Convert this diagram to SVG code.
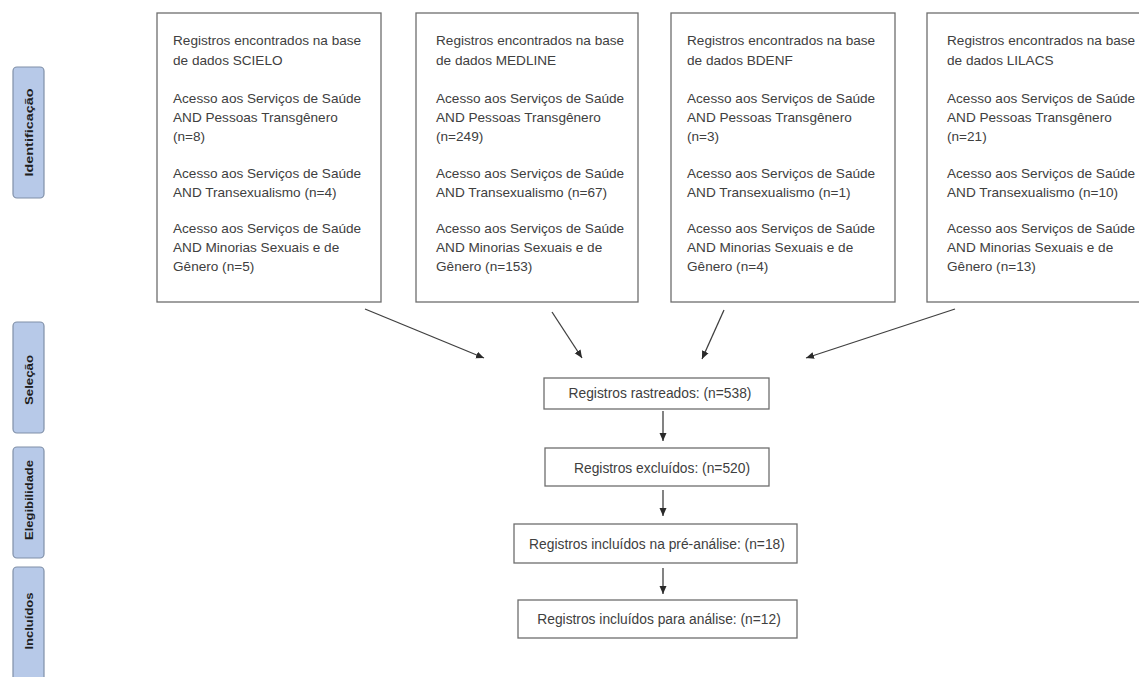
<svg xmlns="http://www.w3.org/2000/svg" width="1139" height="677" viewBox="0 0 1139 677">
<style>
.box{fill:#fff;stroke:#6e6e6e;stroke-width:1.3}
.lab{fill:#b7c9e8;stroke:#8090a8;stroke-width:1.2}
.t{font-family:"Liberation Sans",Arial,sans-serif;font-size:13.6px;fill:#404040}
.tb{font-family:"Liberation Sans",Arial,sans-serif;font-size:13.8px;fill:#404040;text-anchor:middle}
.lt{font-family:"Liberation Sans",Arial,sans-serif;font-size:11.5px;font-weight:bold;fill:#1e1e1e;text-anchor:middle}
.c{stroke:#404040;stroke-width:1.3;fill:none;marker-end:url(#ah)}
</style>
<defs>
<marker id="ah" markerUnits="userSpaceOnUse" markerWidth="9" markerHeight="8" refX="8" refY="4" orient="auto">
<path d="M0,0.5 L8,4 L0,7.5 z" fill="#2a2a2a"/>
</marker>
</defs>
<rect width="1139" height="677" fill="#fff"/>

<g id="lab-identificacao">
<rect class="lab" x="13" y="67" width="31" height="131" rx="4"/>
<text class="lt" transform="translate(32.5,132.5) rotate(-90)" textLength="88" lengthAdjust="spacingAndGlyphs">Identificação</text>
</g>
<g id="lab-selecao">
<rect class="lab" x="13" y="322" width="31" height="111" rx="4"/>
<text class="lt" transform="translate(32.5,380) rotate(-90)" textLength="50" lengthAdjust="spacingAndGlyphs">Seleção</text>
</g>
<g id="lab-elegibilidade">
<rect class="lab" x="13" y="447" width="31" height="111" rx="4"/>
<text class="lt" transform="translate(32.5,500) rotate(-90)" textLength="80" lengthAdjust="spacingAndGlyphs">Elegibilidade</text>
</g>
<g id="lab-incluidos">
<rect class="lab" x="13" y="567" width="31" height="118" rx="4"/>
<text class="lt" transform="translate(32.5,621) rotate(-90)" textLength="57" lengthAdjust="spacingAndGlyphs">Incluídos</text>
</g>

<g id="box-scielo">
<rect class="box" x="157" y="13" width="224" height="289"/>
<text class="t">
<tspan x="173" y="45">Registros encontrados na base</tspan>
<tspan x="173" y="65">de dados SCIELO</tspan>
<tspan x="173" y="103">Acesso aos Serviços de Saúde</tspan>
<tspan x="173" y="122">AND Pessoas Transgênero</tspan>
<tspan x="173" y="141">(n=8)</tspan>
<tspan x="173" y="178">Acesso aos Serviços de Saúde</tspan>
<tspan x="173" y="197">AND Transexualismo (n=4)</tspan>
<tspan x="173" y="233">Acesso aos Serviços de Saúde</tspan>
<tspan x="173" y="252">AND Minorias Sexuais e de</tspan>
<tspan x="173" y="271">Gênero (n=5)</tspan>
</text>
</g>
<g id="box-medline">
<rect class="box" x="416" y="13" width="222" height="289"/>
<text class="t">
<tspan x="436" y="45">Registros encontrados na base</tspan>
<tspan x="436" y="65">de dados MEDLINE</tspan>
<tspan x="436" y="103">Acesso aos Serviços de Saúde</tspan>
<tspan x="436" y="122">AND Pessoas Transgênero</tspan>
<tspan x="436" y="141">(n=249)</tspan>
<tspan x="436" y="178">Acesso aos Serviços de Saúde</tspan>
<tspan x="436" y="197">AND Transexualismo (n=67)</tspan>
<tspan x="436" y="233">Acesso aos Serviços de Saúde</tspan>
<tspan x="436" y="252">AND Minorias Sexuais e de</tspan>
<tspan x="436" y="271">Gênero (n=153)</tspan>
</text>
</g>
<g id="box-bdenf">
<rect class="box" x="671" y="13" width="224" height="289"/>
<text class="t">
<tspan x="687" y="45">Registros encontrados na base</tspan>
<tspan x="687" y="65">de dados BDENF</tspan>
<tspan x="687" y="103">Acesso aos Serviços de Saúde</tspan>
<tspan x="687" y="122">AND Pessoas Transgênero</tspan>
<tspan x="687" y="141">(n=3)</tspan>
<tspan x="687" y="178">Acesso aos Serviços de Saúde</tspan>
<tspan x="687" y="197">AND Transexualismo (n=1)</tspan>
<tspan x="687" y="233">Acesso aos Serviços de Saúde</tspan>
<tspan x="687" y="252">AND Minorias Sexuais e de</tspan>
<tspan x="687" y="271">Gênero (n=4)</tspan>
</text>
</g>
<g id="box-lilacs">
<rect class="box" x="927" y="13" width="224" height="289"/>
<text class="t">
<tspan x="947" y="45">Registros encontrados na base</tspan>
<tspan x="947" y="65">de dados LILACS</tspan>
<tspan x="947" y="103">Acesso aos Serviços de Saúde</tspan>
<tspan x="947" y="122">AND Pessoas Transgênero</tspan>
<tspan x="947" y="141">(n=21)</tspan>
<tspan x="947" y="178">Acesso aos Serviços de Saúde</tspan>
<tspan x="947" y="197">AND Transexualismo (n=10)</tspan>
<tspan x="947" y="233">Acesso aos Serviços de Saúde</tspan>
<tspan x="947" y="252">AND Minorias Sexuais e de</tspan>
<tspan x="947" y="271">Gênero (n=13)</tspan>
</text>
</g>

<g id="box-rastreados">
<rect class="box" x="544" y="378" width="225" height="31"/>
<text class="tb" x="660" y="398">Registros rastreados: (n=538)</text>
</g>
<g id="box-excluidos">
<rect class="box" x="545" y="448" width="224" height="38"/>
<text class="tb" x="662" y="473">Registros excluídos: (n=520)</text>
</g>
<g id="box-preanalise">
<rect class="box" x="514" y="524" width="283" height="39"/>
<text class="tb" x="657" y="549">Registros incluídos na pré-análise: (n=18)</text>
</g>
<g id="box-analise">
<rect class="box" x="518" y="600" width="279" height="38"/>
<text class="tb" x="659" y="624">Registros incluídos para análise: (n=12)</text>
</g>

<g id="connectors">
<line class="c" x1="365" y1="309" x2="484" y2="358"/>
<line class="c" x1="552" y1="312" x2="582" y2="358"/>
<line class="c" x1="724" y1="310" x2="702" y2="359"/>
<line class="c" x1="955" y1="309" x2="806" y2="358"/>
<line class="c" x1="663" y1="411" x2="663" y2="441"/>
<line class="c" x1="663" y1="490" x2="663" y2="516"/>
<line class="c" x1="663" y1="568" x2="663" y2="594"/>
</g>
</svg>
